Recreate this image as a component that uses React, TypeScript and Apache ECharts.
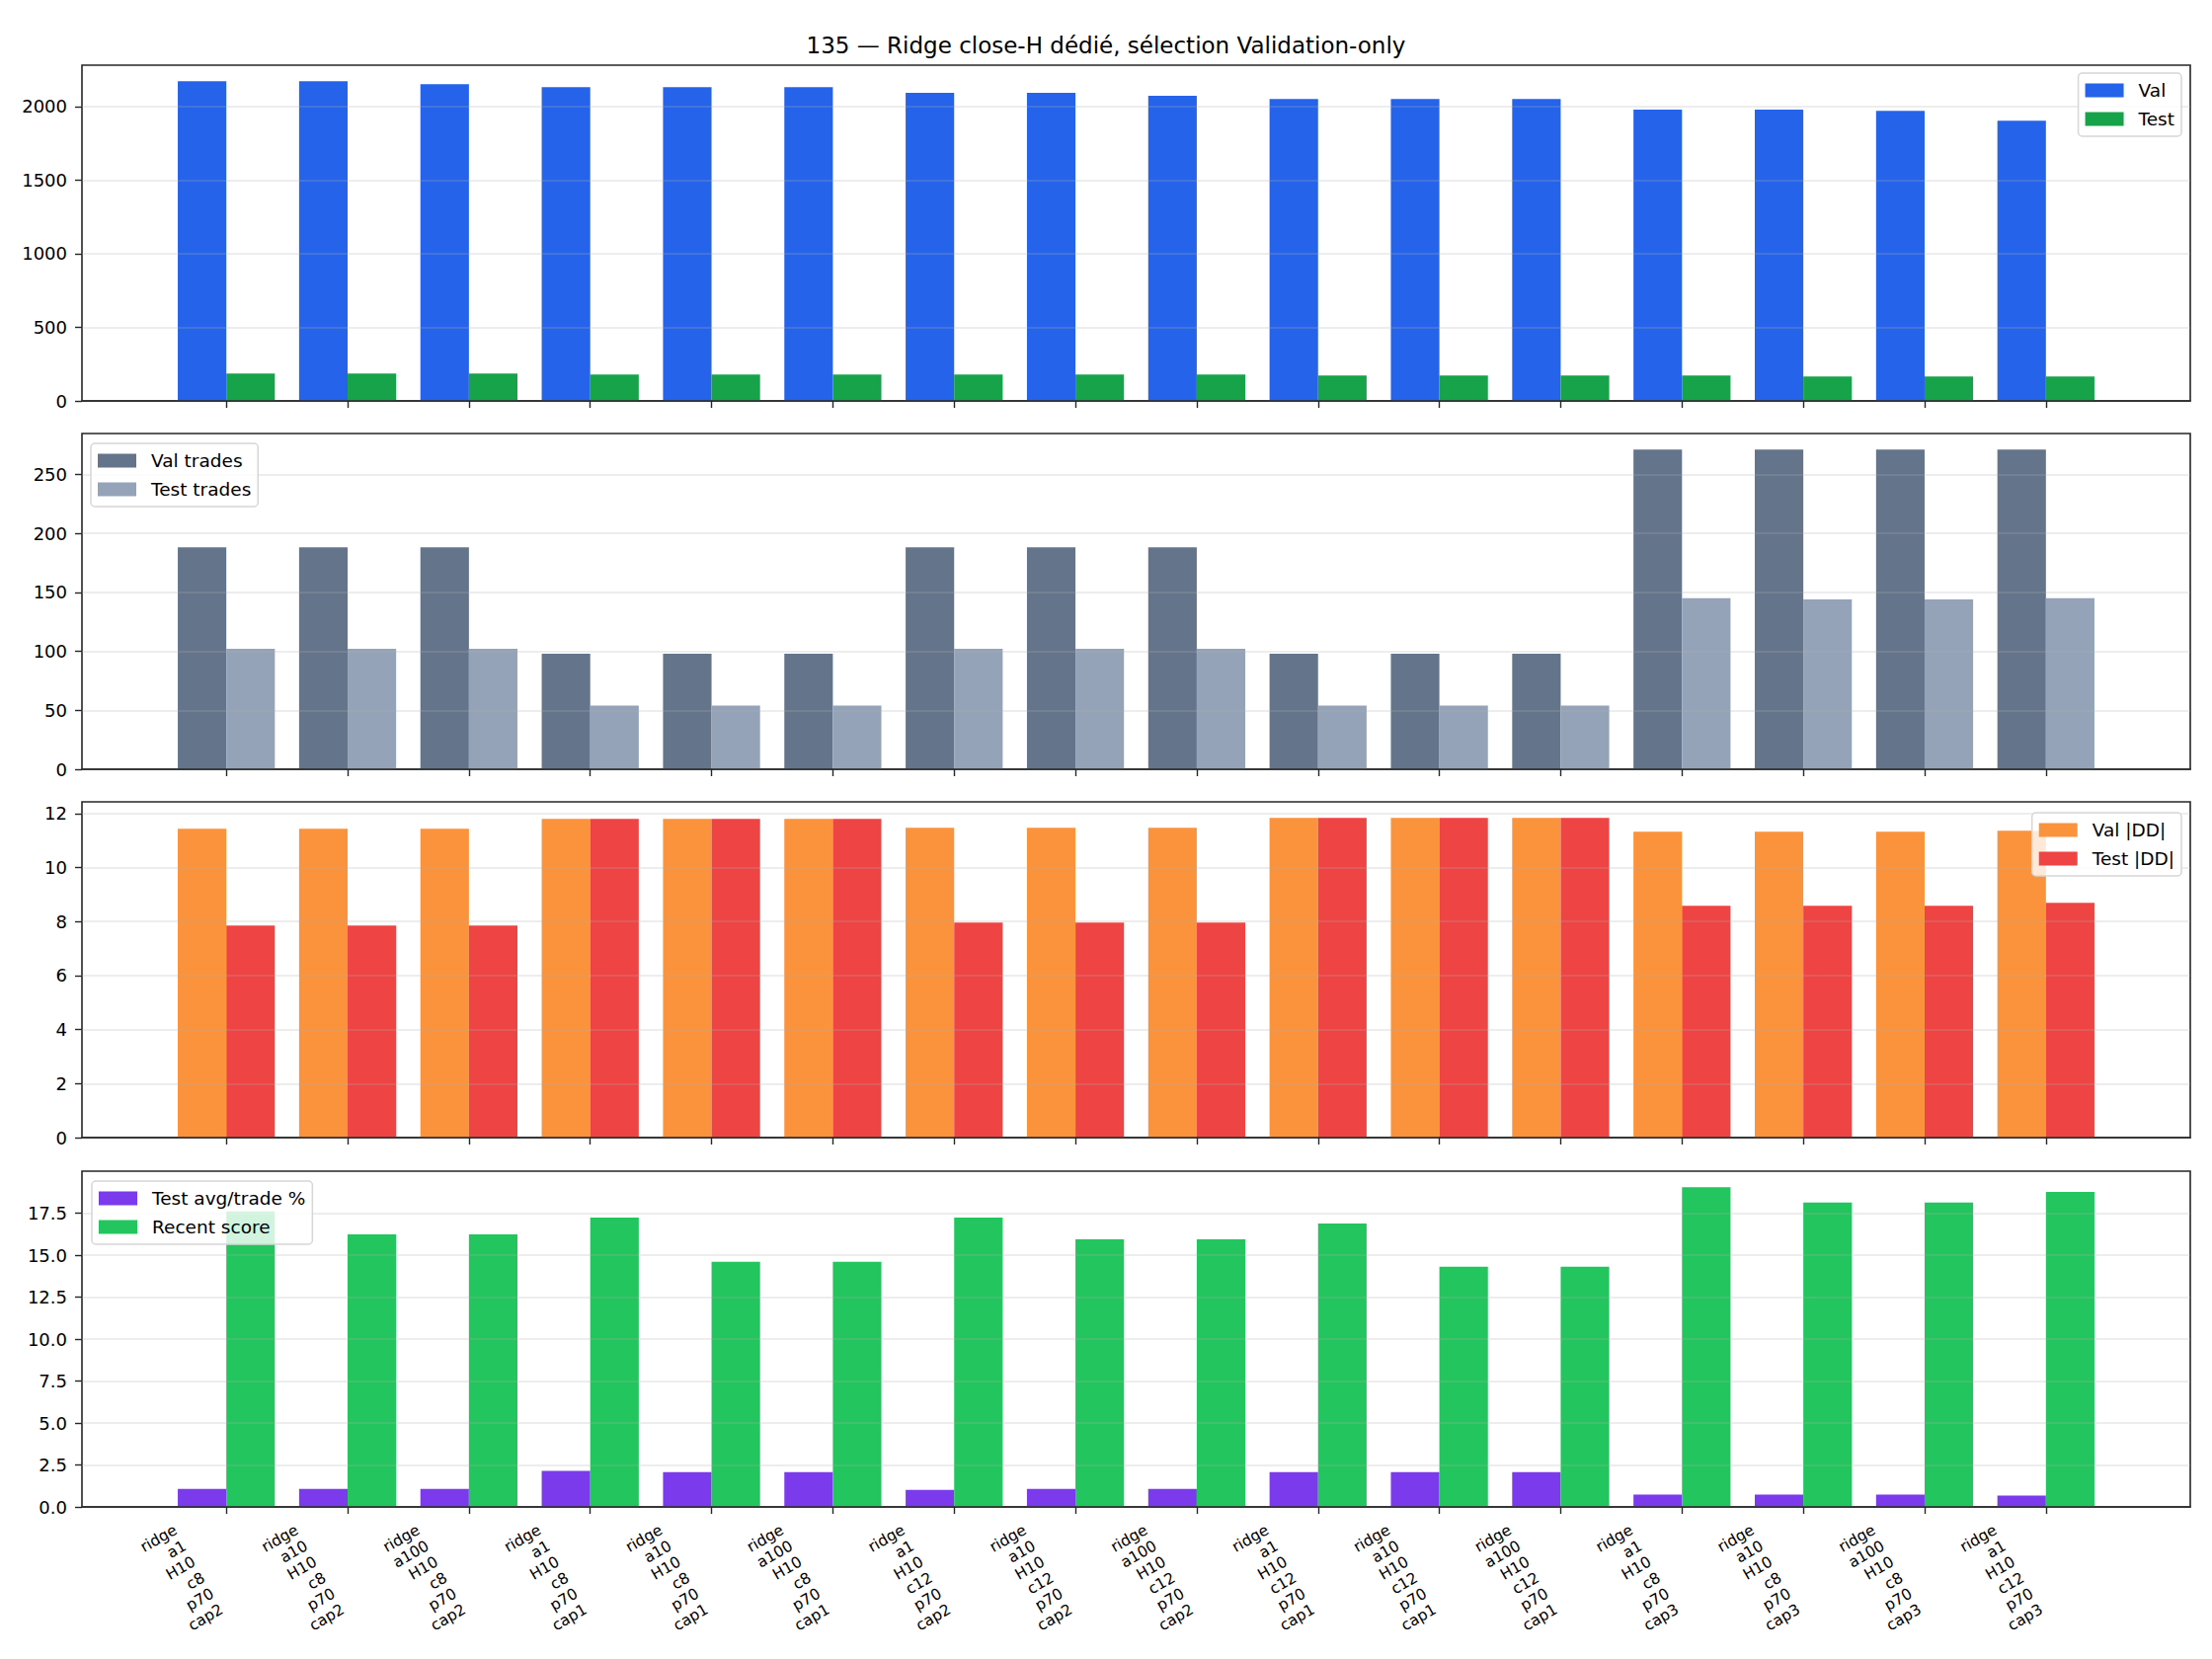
import { useEffect, useRef } from "react";
import * as echarts from "echarts";

const title = "135 — Ridge close-H dédié, sélection Validation-only";

const labels = [
  "ridge\na1\nH10\nc8\np70\ncap2",
  "ridge\na10\nH10\nc8\np70\ncap2",
  "ridge\na100\nH10\nc8\np70\ncap2",
  "ridge\na1\nH10\nc8\np70\ncap1",
  "ridge\na10\nH10\nc8\np70\ncap1",
  "ridge\na100\nH10\nc8\np70\ncap1",
  "ridge\na1\nH10\nc12\np70\ncap2",
  "ridge\na10\nH10\nc12\np70\ncap2",
  "ridge\na100\nH10\nc12\np70\ncap2",
  "ridge\na1\nH10\nc12\np70\ncap1",
  "ridge\na10\nH10\nc12\np70\ncap1",
  "ridge\na100\nH10\nc12\np70\ncap1",
  "ridge\na1\nH10\nc8\np70\ncap3",
  "ridge\na10\nH10\nc8\np70\ncap3",
  "ridge\na100\nH10\nc8\np70\ncap3",
  "ridge\na1\nH10\nc12\np70\ncap3",
];

const valScore = [2172, 2172, 2152, 2132, 2132, 2132, 2092, 2092, 2072, 2051, 2051, 2051, 1978, 1978, 1971, 1904];
const testScore = [186, 186, 186, 179, 179, 179, 179, 179, 179, 172, 172, 172, 172, 166, 166, 166];

const valTrades = [188, 188, 188, 98, 98, 98, 188, 188, 188, 98, 98, 98, 271, 271, 271, 271];
const testTrades = [102, 102, 102, 54, 54, 54, 102, 102, 102, 54, 54, 54, 145, 144, 144, 145];

const valDD = [11.44, 11.44, 11.44, 11.8, 11.8, 11.8, 11.47, 11.47, 11.47, 11.84, 11.84, 11.84, 11.33, 11.33, 11.33, 11.36];
const testDD = [7.85, 7.85, 7.85, 11.8, 11.8, 11.8, 7.96, 7.96, 7.96, 11.84, 11.84, 11.84, 8.58, 8.58, 8.58, 8.69];

const testAvgTrade = [1.08, 1.08, 1.08, 2.14, 2.08, 2.08, 1.02, 1.08, 1.08, 2.08, 2.08, 2.08, 0.73, 0.73, 0.73, 0.67];
const recentScore = [17.6, 16.23, 16.23, 17.24, 14.6, 14.6, 17.24, 15.95, 15.95, 16.89, 14.31, 14.31, 19.05, 18.13, 18.13, 18.77];

const ticks1 = [0, 500, 1000, 1500, 2000];
const ticks2 = [0, 50, 100, 150, 200, 250];
const ticks3 = [0, 2, 4, 6, 8, 10, 12];
const ticks4 = [0, 2.5, 5, 7.5, 10, 12.5, 15, 17.5];

const panels = [
  { names: ["Val", "Test"], colors: ["#2563eb", "#16a34a"], data: [valScore, testScore], ticks: ticks1, step: 500, dec: 0, legend: { right: 31, top: 74 } },
  { names: ["Val trades", "Test trades"], colors: ["#64748b", "#94a3b8"], data: [valTrades, testTrades], ticks: ticks2, step: 50, dec: 0, legend: { left: 92, top: 449 } },
  { names: ["Val |DD|", "Test |DD|"], colors: ["#fb923c", "#ef4444"], data: [valDD, testDD], ticks: ticks3, step: 2, dec: 0, legend: { right: 31, top: 823 } },
  { names: ["Test avg/trade %", "Recent score"], colors: ["#7c3aed", "#22c55e"], data: [testAvgTrade, recentScore], ticks: ticks4, step: 2.5, dec: 1, legend: { left: 93, top: 1196 } },
];

const tops = [66, 439, 812, 1186];
const FONT = "DejaVu Sans";
const SPINE = "#262626";

const App = () => {
  const chartRef = useRef<HTMLDivElement>(null);

  useEffect(() => {
    if (!chartRef.current) return;
    const chart = echarts.init(chartRef.current, null, { renderer: "svg" });

    const n = labels.length;
    const xIdx = labels.map((_, i) => i);
    const pad = 0.05 * (n - 1 + 0.8);
    const xMin = -0.4 - pad;
    const xMax = n - 1 + 0.4 + pad;
    const lineH = 18.6;
    const blockH = lineH * 6;

    const option = {
      animation: false,
      textStyle: { fontFamily: FONT },
      title: {
        text: title,
        left: "center",
        top: 29,
        textStyle: { fontSize: 23, fontWeight: "normal", color: "#000", fontFamily: FONT },
      },
      grid: panels.map((_, i) => ({
        left: 83,
        right: 22,
        top: tops[i],
        height: 340,
        show: true,
        borderColor: SPINE,
        borderWidth: 1.6,
        backgroundColor: "transparent",
        outerBoundsMode: "none",
      })),
      legend: panels.map((p) => ({
        data: p.names,
        orient: "vertical",
        ...p.legend,
        icon: "rect",
        itemWidth: 39,
        itemHeight: 14,
        itemGap: 10,
        padding: [8, 7],
        backgroundColor: "rgba(255,255,255,0.8)",
        borderColor: "#d6d6d6",
        borderWidth: 1.5,
        borderRadius: 4,
        textStyle: { fontSize: 18.5, color: "#000", fontFamily: FONT, lineHeight: 19, padding: [0, 0, 0, 10] },
      })),
      xAxis: panels.map((_, i) => ({
        type: "value",
        gridIndex: i,
        min: xMin,
        max: xMax,
        z: 3,
        axisLine: { show: true, onZero: false, lineStyle: { color: SPINE, width: 1.6 } },
        axisTick: { show: true, length: 7, customValues: xIdx, lineStyle: { color: SPINE, width: 1.4 } },
        axisLabel: {
          show: i === panels.length - 1,
          customValues: xIdx,
          formatter: (v: number) => labels[Math.round(v)],
          rotate: 30,
          align: "right",
          verticalAlign: "bottom",
          margin: 14 + 0.866 * blockH,
          fontSize: 15.5,
          lineHeight: lineH,
          color: "#000",
          fontFamily: FONT,
        },
        splitLine: { show: false },
      })),
      yAxis: panels.map((p, i) => ({
        type: "value",
        gridIndex: i,
        min: 0,
        max: Math.max(...p.data[0], ...p.data[1]) * 1.05,
        interval: p.step,
        z: 3,
        axisLine: { show: false, onZero: false },
        axisTick: { show: true, length: 7, customValues: p.ticks, lineStyle: { color: SPINE, width: 1.4 } },
        axisLabel: {
          customValues: p.ticks,
          formatter: (v: number) => v.toFixed(p.dec),
          margin: 15,
          fontSize: 18,
          color: "#000",
          fontFamily: FONT,
        },
        splitLine: { show: true, lineStyle: { color: "rgba(176,176,176,0.3)", width: 1.5 } },
      })),
      series: panels.flatMap((p, i) =>
        p.names.map((name, k) => ({
          name,
          type: "bar",
          xAxisIndex: i,
          yAxisIndex: i,
          barWidth: "40%",
          barGap: "0%",
          itemStyle: { color: p.colors[k] },
          emphasis: { disabled: true },
          data: p.data[k].map((v, j) => [j, v]),
        }))
      ),
    };

    chart.setOption(option);

    return () => {
      chart.dispose();
    };
  }, []);

  return (
    <div
      ref={chartRef}
      style={{ position: "absolute", left: 0, top: 0, width: 2240, height: 1680, background: "#fff" }}
    />
  );
};

export default App;
